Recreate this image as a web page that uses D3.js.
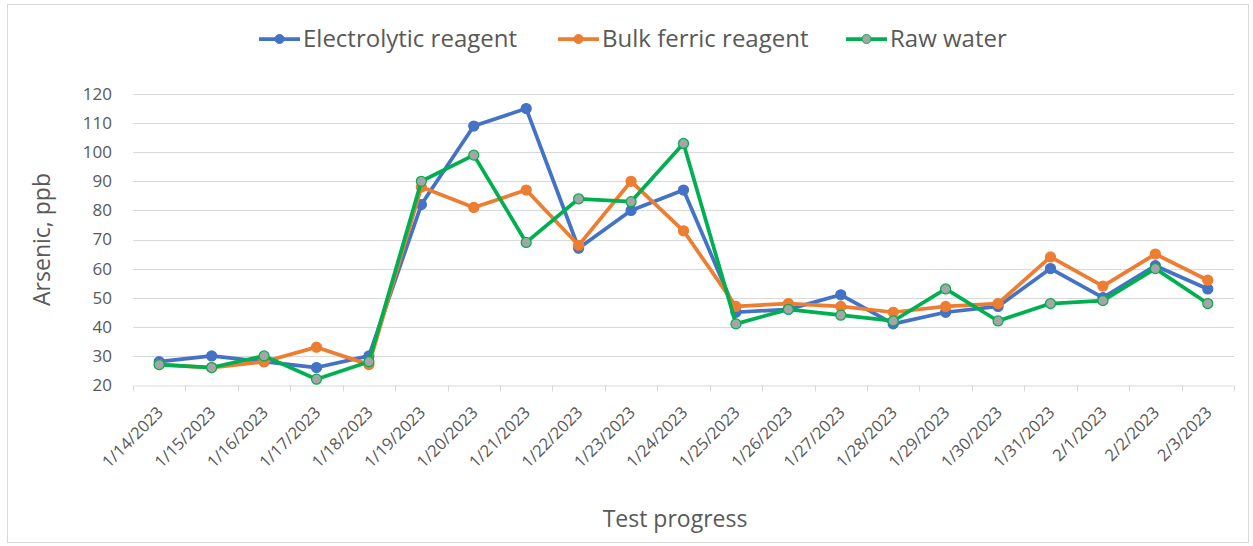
<!DOCTYPE html>
<html>
<head>
<meta charset="utf-8">
<script src="https://cdn.jsdelivr.net/npm/d3@7"></script>
<style>
    body { margin: 0; background: #fff; }
    svg { display: block; font-family: "Open Sans", sans-serif; }
</style>
</head>
<body>
<div id="chart"></div>
<script>
const dates = ['1/14/2023','1/15/2023','1/16/2023','1/17/2023','1/18/2023','1/19/2023','1/20/2023',
    '1/21/2023','1/22/2023','1/23/2023','1/24/2023','1/25/2023','1/26/2023','1/27/2023','1/28/2023',
    '1/29/2023','1/30/2023','1/31/2023','2/1/2023','2/2/2023','2/3/2023'];

const electrolytic = [28, 30, 28, 26, 30, 82, 109, 115, 67, 80, 87, 45, 46, 51, 41, 45, 47, 60, 50, 61, 53];
const bulkFerric   = [27, 26, 28, 33, 27, 88, 81, 87, 68, 90, 73, 47, 48, 47, 45, 47, 48, 64, 54, 65, 56];
const rawWater     = [27, 26, 30, 22, 28, 90, 99, 69, 84, 83, 103, 41, 46, 44, 42, 53, 42, 48, 49, 60, 48];

const yTicks = [20, 30, 40, 50, 60, 70, 80, 90, 100, 110, 120];

const seriesNames = ['Electrolytic reagent', 'Bulk ferric reagent', 'Raw water'];
const seriesColors = ['#4472C4', '#ED7D31', '#00B050'];
const markerFills = ['#4472C4', '#ED7D31', '#A5A5A5'];

const W = 1253, H = 546;
const margin = {left: 133, right: 19, top: 94, bottom: 161};

const series = [electrolytic, bulkFerric, rawWater].map((vals, i) => ({
    name: seriesNames[i],
    color: seriesColors[i],
    fill: markerFills[i],
    values: vals.map((v, j) => ({date: dates[j], v}))
}));

const svg = d3.select('#chart')
    .append('svg')
    .attr('width', W)
    .attr('height', H);

// chart frame
svg.append('rect')
    .attr('x', 7.5).attr('y', 4.5)
    .attr('width', W - 12).attr('height', H - 8)
    .attr('fill', '#fff')
    .attr('stroke', '#D9D9D9');

const x = d3.scaleBand()
    .domain(dates)
    .range([margin.left, W - margin.right]);

const y = d3.scaleLinear()
    .domain([20, 120])
    .range([H - margin.bottom, margin.top]);

const cx = d => x(d) + x.bandwidth() / 2;

// gridlines
svg.append('g')
    .selectAll('line')
    .data(yTicks.slice(1))
    .enter()
    .append('line')
    .attr('x1', margin.left)
    .attr('x2', W - margin.right)
    .attr('y1', d => Math.round(y(d)) + 0.5)
    .attr('y2', d => Math.round(y(d)) + 0.5)
    .attr('stroke', '#D9D9D9')
    .attr('stroke-width', 1);

// y axis labels
const yAxis = svg.append('g')
    .attr('transform', `translate(${margin.left},0)`)
    .call(d3.axisLeft(y).tickValues(yTicks).tickSize(0).tickPadding(21));
yAxis.select('.domain').remove();
yAxis.selectAll('text')
    .style('font-size', '17px')
    .style('font-family', '"Open Sans", sans-serif')
    .attr('fill', '#595959');

// x axis
const xAxis = svg.append('g')
    .attr('transform', `translate(0,${Math.round(y(20)) + 0.5})`)
    .call(d3.axisBottom(x).tickSize(0));
xAxis.select('.domain').attr('stroke', '#D9D9D9');

xAxis.selectAll('line.bandTick')
    .data(dates.concat(['end']))
    .enter()
    .append('line')
    .attr('class', 'bandTick')
    .attr('x1', (d, i) => Math.round(margin.left + i * x.step()) + 0.5)
    .attr('x2', (d, i) => Math.round(margin.left + i * x.step()) + 0.5)
    .attr('y1', 0)
    .attr('y2', 6)
    .attr('stroke', '#D9D9D9');

xAxis.selectAll('.tick text')
    .style('font-size', '16.5px')
    .style('font-family', '"Open Sans", sans-serif')
    .attr('fill', '#595959')
    .attr('text-anchor', 'end')
    .attr('y', 0)
    .attr('dy', '0.35em')
    .attr('transform', 'translate(1,24) rotate(-45)');

// axis titles
svg.append('text')
    .attr('transform', `translate(50,${(y(20) + y(120)) / 2}) rotate(-90)`)
    .attr('text-anchor', 'middle')
    .style('font-size', '23px')
    .attr('fill', '#595959')
    .text('Arsenic, ppb');

svg.append('text')
    .attr('x', 675)
    .attr('y', 527)
    .attr('text-anchor', 'middle')
    .style('font-size', '23px')
    .attr('fill', '#595959')
    .text('Test progress');

// lines and markers
const line = d3.line()
    .x(d => cx(d.date))
    .y(d => y(d.v));

const sg = svg.selectAll('g.series')
    .data(series)
    .enter()
    .append('g')
    .attr('class', 'series');

sg.append('path')
    .attr('d', d => line(d.values))
    .attr('fill', 'none')
    .attr('stroke', d => d.color)
    .attr('stroke-width', 3.75)
    .attr('stroke-linejoin', 'round');

sg.selectAll('circle')
    .data(d => d.values.map(p => ({...p, color: d.color, fill: d.fill})))
    .enter()
    .append('circle')
    .attr('cx', d => cx(d.date))
    .attr('cy', d => y(d.v))
    .attr('r', 5)
    .attr('fill', d => d.fill)
    .attr('stroke', d => d.color)
    .attr('stroke-width', 1.25);

// legend
const legendX = [259, 558, 846];
const lg = svg.selectAll('g.legend')
    .data(series)
    .enter()
    .append('g')
    .attr('class', 'legend')
    .attr('transform', (d, i) => `translate(${legendX[i]},39)`);

lg.append('line')
    .attr('x1', 0).attr('x2', 41)
    .attr('stroke', d => d.color)
    .attr('stroke-width', 3.75);

lg.append('circle')
    .attr('cx', 20.5)
    .attr('r', 4.5)
    .attr('fill', d => d.fill)
    .attr('stroke', d => d.color);

lg.append('text')
    .attr('x', 44)
    .attr('dy', '0.35em')
    .style('font-size', '24px')
    .attr('fill', '#595959')
    .text(d => d.name);
</script>
</body>
</html>
